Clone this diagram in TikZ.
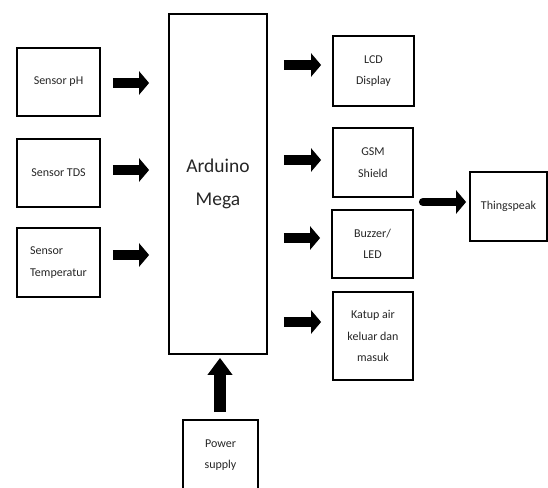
\documentclass[tikz,border=0pt]{standalone}
\usepackage{fontspec}
\setmainfont{Carlito}
\usetikzlibrary{arrows.meta}
\begin{document}
\begin{tikzpicture}[x=1pt,y=1pt,
  blk/.style={draw=black, line width=1.8pt, inner sep=0pt, align=center,
    text=black!85, font=\fontsize{12}{21.5}\selectfont},
  bigarrow/.style={line width=10pt, -{Triangle[length=10pt,width=23pt]}, black},
]
\useasboundingbox (0,0) rectangle (548,-487);
% left sensors
\node[blk, minimum width=83pt, minimum height=68pt] (ph) at (58.5,-82) {Sensor pH};
\node[blk, minimum width=83pt, minimum height=68pt] (tds) at (58.5,-173) {Sensor TDS};
\node[blk, minimum width=83pt, minimum height=69pt, align=left] (temp) at (58.5,-262.5) {Sensor\\Temperatur};
% arduino
\node[blk, minimum width=98pt, minimum height=340pt, font=\fontsize{19.5}{33}\selectfont] (ard) at (218,-184) {Arduino\\Mega};
% outputs
\node[blk, minimum width=81pt, minimum height=70pt] (lcd) at (373.5,-71) {LCD\\Display};
\node[blk, minimum width=80pt, minimum height=69pt] (gsm) at (373,-162.5) {GSM\\Shield};
\node[blk, minimum width=81pt, minimum height=68pt] (buz) at (372.5,-244) {Buzzer/\\LED};
\node[blk, minimum width=80pt, minimum height=88pt] (katup) at (373,-336) {Katup air\\keluar dan\\masuk};
\node[blk, minimum width=77pt, minimum height=69pt] (thing) at (508.5,-206.5) {Thingspeak};
% power
\node[blk, minimum width=75pt, minimum height=70pt] (power) at (220.5,-455) {Power\\supply};
% arrows in
\draw[bigarrow, shorten <=12pt, shorten >=19pt] ([yshift=-1pt]ph.east) -- ([yshift=-1pt]ph.east -| ard.west);
\draw[bigarrow, shorten <=12pt, shorten >=19pt] ([yshift=3pt]tds.east) -- ([yshift=3pt]tds.east -| ard.west);
\draw[bigarrow, shorten <=12pt, shorten >=19pt] ([yshift=7.5pt]temp.east) -- ([yshift=7.5pt]temp.east -| ard.west);
% arrows out
\draw[bigarrow, shorten <=16pt, shorten >=11pt] ([yshift=6pt]lcd.west -| ard.east) -- ([yshift=6pt]lcd.west);
\draw[bigarrow, shorten <=16pt, shorten >=11pt] ([yshift=2.5pt]gsm.west -| ard.east) -- ([yshift=2.5pt]gsm.west);
\draw[bigarrow, shorten <=16pt, shorten >=11pt] ([yshift=6pt]buz.west -| ard.east) -- ([yshift=6pt]buz.west);
\draw[bigarrow, shorten <=16pt, shorten >=11pt] ([yshift=14pt]katup.west -| ard.east) -- ([yshift=14pt]katup.west);
% to thingspeak
\draw[bigarrow, line width=8pt, line cap=round, shorten <=9pt, shorten >=3pt] ([yshift=4.5pt]thing.west -| gsm.east) -- ([yshift=4.5pt]thing.west);
% power arrow
\draw[line width=12pt, -{Triangle[length=17pt,width=24pt]}, shorten <=7pt, shorten >=3pt] ([xshift=-0.5pt]power.north) -- ([xshift=-0.5pt]power.north |- ard.south);
\end{tikzpicture}
\end{document}
